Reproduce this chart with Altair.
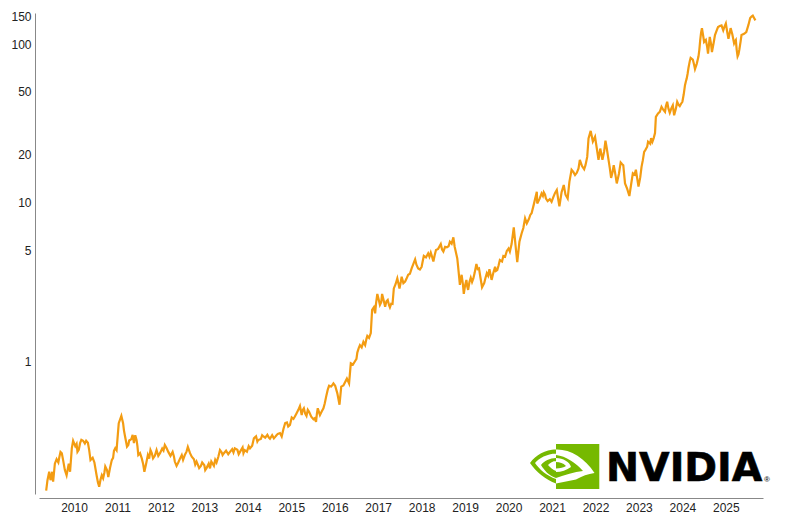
import altair as alt
import pandas as pd

years = [
2009.36,2009.39,2009.43,2009.46,2009.50,2009.52,2009.56,2009.64,2009.69,2009.75,2009.83,2009.88,2009.91,2009.95,2009.98,
2010.08,2010.14,2010.21,2010.28,2010.35,2010.38,2010.47,2010.52,2010.58,2010.64,2010.67,2010.72,2010.79,2010.87,2010.92,2010.98,
2011.03,2011.09,2011.13,2011.20,2011.25,2011.29,2011.35,2011.38,2011.44,2011.48,2011.56,2011.62,2011.66,2011.70,2011.76,2011.82,2011.90,2011.98,
2012.09,2012.17,2012.27,2012.32,2012.40,2012.48,2012.55,2012.62,2012.71,2012.82,2012.88,2012.95,
2013.05,2013.16,2013.28,2013.36,2013.45,2013.59,2013.70,2013.82,2013.93,
2014.05,2014.14,2014.24,2014.36,2014.45,2014.51,2014.63,2014.69,2014.74,2014.78,2014.86,2014.93,
2015.05,2015.12,2015.20,2015.24,2015.29,2015.35,2015.41,2015.51,2015.57,2015.61,2015.66,2015.74,2015.81,2015.87,2015.97,
2016.01,2016.06,2016.11,2016.15,2016.24,2016.28,2016.33,2016.37,2016.47,2016.52,2016.58,2016.66,2016.70,2016.75,2016.83,2016.86,2016.93,2016.98,
2017.04,2017.09,2017.16,2017.22,2017.27,2017.33,2017.36,2017.44,2017.49,2017.54,2017.62,2017.69,2017.77,2017.85,2017.92,
2018.00,2018.05,2018.15,2018.21,2018.27,2018.33,2018.44,2018.50,2018.58,2018.65,2018.73,2018.76,2018.82,2018.84,2018.88,2018.92,2018.97,
2019.03,2019.07,2019.13,2019.19,2019.26,2019.32,2019.39,2019.50,2019.56,2019.61,2019.69,2019.74,2019.80,2019.92,
2020.00,2020.07,2020.12,2020.16,2020.20,2020.25,2020.30,2020.38,2020.42,2020.53,2020.65,2020.66,2020.76,2020.81,2020.86,2020.99,
2021.11,2021.17,2021.27,2021.36,2021.45,2021.53,2021.61,2021.64,2021.74,2021.81,2021.84,2021.89,2021.94,2021.99,
2022.07,2022.11,2022.16,2022.23,2022.29,2022.36,2022.42,2022.49,2022.58,2022.64,2022.68,2022.78,2022.86,2022.93,2022.99,
2023.06,2023.12,2023.19,2023.21,2023.31,2023.37,2023.39,2023.48,2023.52,2023.60,2023.65,2023.71,2023.78,2023.81,2023.88,2023.94,
2024.00,2024.06,2024.10,2024.14,2024.19,2024.24,2024.29,2024.37,2024.41,2024.45,2024.50,2024.54,2024.59,2024.63,2024.68,2024.75,2024.82,2024.90,2024.94,
2025.00,2025.06,2025.11,2025.19,2025.23,2025.27,2025.31,2025.36,2025.47,2025.56,2025.62,2025.68,
]
prices = [
.152,.177,.200,.177,.200,.173,.225,.229,.267,.237,.190,.225,.200,.281,.314,
.267,.303,.314,.314,.274,.237,.229,.190,.161,.190,.182,.216,.185,.237,.271,.274,
.405,.450,.405,.308,.295,.317,.342,.303,.317,.255,.243,.200,.225,.255,.274,.243,.274,.262,
.295,.267,.267,.232,.229,.255,.255,.287,.249,.232,.211,.229,
.211,.232,.229,.274,.262,.267,.281,.267,.274,
.281,.325,.317,.334,.342,.323,.332,.347,.351,.334,.406,.386,
.431,.467,.520,.456,.503,.450,.478,.429,.413,.503,.456,.503,.609,.698,.722,
.698,.625,.530,.689,.738,.776,.723,.967,1.00,1.13,1.26,1.32,1.26,1.44,1.50,2.10,2.00,2.65,
2.26,2.65,2.20,2.43,2.18,2.29,2.87,3.32,2.87,3.40,3.17,3.50,3.84,4.38,3.84,
3.93,4.60,4.78,4.83,4.24,5.02,5.47,4.90,5.22,5.66,6.03,5.26,4.44,3.93,3.02,3.50,2.65,
3.25,2.81,3.35,3.32,4.09,3.84,2.92,3.58,3.79,3.25,3.93,3.75,4.34,4.55,
5.13,5.47,6.97,5.38,4.20,5.65,6.38,7.95,7.39,8.55,11.7,9.86,11.4,11.6,10.6,10.1,
12.0,9.45,12.9,10.6,16.1,14.9,16.4,18.6,16.2,19.4,25.4,28.3,24.3,26.0,
18.6,21.9,18.6,24.6,19.4,14.3,17.2,13.2,17.9,17.2,13.2,11.0,15.3,16.1,12.6,
16.8,20.9,22.5,24.2,24.2,27.4,34.7,37.3,40.2,37.3,43.2,36.8,41.1,35.5,43.2,40.6,
43.2,55.0,60.7,70.6,81.7,79.8,69.5,83.3,106,126,103,106,87,111,89,114,128,131,122,
135,108,126,101,106,83.5,92,114,119,146,151,141,
]
# finer wiggles
fine_years = [
2009.60,2009.66,2009.72,2009.79,2010.03,2010.06,2010.11,2010.17,2010.25,2010.32,2010.43,2010.55,2010.61,2010.70,2010.76,2010.83,2010.90,2010.95,
2011.15,2011.17,2011.22,2011.27,2011.32,2011.41,2011.46,2011.52,2011.59,2011.73,2011.79,2011.86,2011.94,
2012.03,2012.06,2012.13,2012.22,2012.30,2012.36,2012.44,2012.51,2012.59,2012.67,2012.76,2012.79,2012.85,2012.92,
2013.00,2013.02,2013.10,2013.13,2013.22,2013.25,2013.32,2013.40,2013.42,2013.50,2013.55,2013.64,2013.67,2013.76,2013.79,2013.88,2013.90,2013.98,
2014.02,2014.10,2014.19,2014.22,2014.30,2014.33,2014.40,2014.48,2014.56,2014.60,2014.66,2014.82,2014.90,2014.97,
2015.01,2015.08,2015.16,2015.26,2015.32,2015.38,2015.46,2015.54,2015.59,2015.70,2015.77,2015.84,2015.92,
2016.20,2016.42,2016.50,2016.55,2016.62,2016.73,2016.79,2016.90,2016.95,
2017.01,2017.07,2017.12,2017.19,2017.25,2017.30,2017.40,2017.47,2017.52,2017.58,2017.65,2017.73,2017.81,2017.88,2017.96,
2018.02,2018.10,2018.18,2018.24,2018.30,2018.38,2018.47,2018.54,2018.62,2018.69,2018.95,
2019.00,2019.05,2019.10,2019.16,2019.22,2019.29,2019.35,2019.44,2019.47,2019.53,2019.59,2019.65,2019.71,2019.77,2019.85,2019.88,2019.96,
2020.03,2020.34,2020.47,2020.50,2020.58,2020.71,2020.79,2020.84,2020.90,2020.95,
2021.03,2021.07,2021.14,2021.22,2021.31,2021.40,2021.49,2021.57,2021.69,2021.77,
2022.03,2022.20,2022.26,2022.33,2022.39,2022.45,2022.54,2022.61,2022.73,2022.82,2022.90,2022.96,
2023.03,2023.09,2023.15,2023.26,2023.28,2023.34,2023.44,2023.56,2023.62,2023.68,2023.75,2023.85,2023.91,2023.97,
2024.03,2024.08,2024.12,2024.17,2024.27,2024.33,2024.39,2024.43,2024.48,2024.57,2024.61,2024.66,2024.72,2024.79,2024.86,2024.97,
2025.03,2025.09,2025.15,2025.21,2025.25,2025.29,2025.34,2025.42,2025.52,2025.59,2025.65,
]
fine_prices = [
.240,.245,.262,.205,.290,.300,.275,.318,.302,.305,.245,.172,.178,.198,.205,.212,.245,.282,
.365,.340,.288,.315,.322,.340,.290,.262,.225,.242,.262,.252,.252,
.280,.272,.282,.252,.250,.218,.242,.238,.268,.262,.240,.222,.222,.218,
.220,.205,.225,.210,.218,.238,.248,.265,.255,.272,.258,.278,.265,.275,.258,.285,.262,.268,
.290,.292,.335,.310,.322,.340,.328,.330,.340,.325,.340,.372,.410,.395,
.440,.445,.490,.488,.465,.492,.445,.435,.465,.480,.540,.660,.690,
.700,.950,1.03,1.20,1.22,1.38,1.40,2.18,2.30,
2.45,2.35,2.45,2.38,2.25,2.30,3.05,3.05,3.15,3.10,3.30,3.55,4.10,4.05,3.78,
4.20,4.50,4.55,4.55,4.65,5.10,5.05,5.25,5.30,5.50,3.05,
3.00,2.95,3.15,3.15,3.60,3.80,3.40,3.10,3.35,3.45,3.45,3.60,3.70,4.00,4.25,4.60,4.95,
4.90,6.90,7.90,8.35,9.70,10.5,11.0,11.2,10.2,10.5,
10.8,11.5,10.6,11.6,11.2,13.5,15.6,15.4,17.0,17.2,
22.0,21.0,22.0,16.5,15.4,15.5,15.2,17.5,12.2,13.0,15.0,14.2,
14.4,18.5,21.5,23.5,25.5,25.5,36.5,38.5,40.5,39.0,39.5,39.0,41.5,42.0,
48,58,65,78,74,75,92,118,112,96,98,100,102,122,130,129,
120,118,115,104,92,86,104,116,132,149,146,
]
year_ticks = list(range(2010, 2026))
price_ticks = [1, 5, 10, 20, 50, 100, 150]

GREEN = "#76B900"
GREEN_PATH = ("M0,-22 L43.3,-22 L43.3,23 L0,23 Z "
              "M0,-16.7 C-11,-16 -20,-11 -26,-3 C-20,6 -10,14 0,17.5 Z")
WHITE_PATH = ("M0,-12.5 C-9,-12 -17,-8 -21,-3 C-17,3 -9,10 0,13 Z "
              "M0,-16.5 C14,-17 29,-8 38.5,7 C32,8 26,10 20,13.5 L0,17.5 Z")
INNER_PATH = ("M0,-11 C10,-10 20,-3 27,5 C18,6 9,9 0,12 C-7,10 -12,4 -15,-1 "
              "C-12,-5 -6,-8 0,-8 Z")
CORE_PATH = ("M0,-5 C-3,-5 -6,-3 -8,-1 C-6,1 -3,4 0,5 Z "
             "M0,-8 C7,-8 14,-4 15,1 C11,4 5,6 0,6 L0,2.5 C4,2.5 8,1.5 10,0 C7,-3 4,-4 0,-4 Z")

df = pd.DataFrame({"year": years + fine_years, "price": prices + fine_prices}).sort_values("year")

line = alt.Chart(df).mark_line(color="#F39C12", strokeWidth=2.2).encode(
    x=alt.X("year:Q", sort=None,
            scale=alt.Scale(domain=[2009.195, 2025.855], nice=False, zero=False),
            axis=alt.Axis(values=year_ticks, format="d", title=None, grid=False, ticks=False,
                          offset=4, labelPadding=4, labelFont="Liberation Sans", labelFontSize=12,
                          labelColor="#222222", domainColor="#888888", labelOverlap=False,
                          labelFlush=False)),
    y=alt.Y("price:Q",
            scale=alt.Scale(type="log", domain=[0.1448, 157], nice=False),
            axis=alt.Axis(values=price_ticks, format="d", title=None, grid=False, ticks=False,
                          offset=4, labelPadding=4, labelFont="Liberation Sans", labelFontSize=12,
                          labelColor="#222222", domainColor="#888888", labelOverlap=False,
                          labelFlush=False)),
)

one = alt.Data(values=[{"a": 1}])

def logo(path, color):
    return alt.Chart(one).mark_point(shape=path, size=4, filled=True, color=color, opacity=1,
                                     strokeWidth=0).encode(x=alt.value(517), y=alt.value(453))

word = alt.Chart(one).mark_text(text="NVIDIA", font="DejaVu Sans", fontWeight="bold", fontSize=39.5,
                                align="left", baseline="alphabetic", color="#000000",
                                stroke="#000000", strokeWidth=0.6).encode(
    x=alt.value(567), y=alt.value(468))
mark_r = alt.Chart(one).mark_text(text="®", font="Liberation Sans", fontSize=8, fontWeight="bold",
                                  align="center", baseline="alphabetic", color="#333333").encode(
    x=alt.value(728), y=alt.value(469))

chart = alt.layer(
    line,
    logo(GREEN_PATH, GREEN), logo(WHITE_PATH, "#ffffff"), logo(INNER_PATH, GREEN), logo(CORE_PATH, "#ffffff"),
    word, mark_r,
).properties(
    width=724, height=481,
    autosize=alt.AutoSizeParams(type="none"),
    padding={"left": 31, "top": 5, "right": 29, "bottom": 24},
).configure_view(stroke=None)

chart.save("out.html", embed_options={"renderer": "svg", "actions": False})
